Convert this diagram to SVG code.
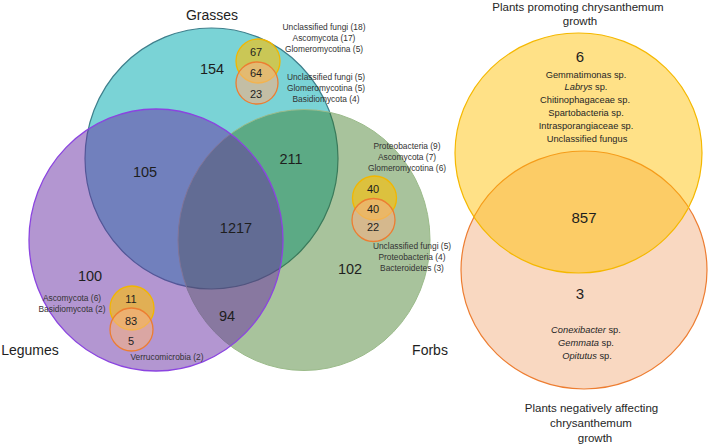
<svg xmlns="http://www.w3.org/2000/svg" width="709" height="446" viewBox="0 0 709 446">
<style>
text{font-family:"Liberation Sans",Arial,sans-serif;text-anchor:middle;fill:#1e1e1e}
.title{font-size:14px}
.num{font-size:14.5px}
.snum{font-size:11px}
.lab{font-size:8.4px;fill:#333}
.rt{font-size:11.5px;fill:#262626}
.sp{font-size:9.3px;fill:#262626}
.big{font-size:15px}
.sy{fill:#ffc000;fill-opacity:0.6;stroke:#f2b600;stroke-width:1.3}
.so{fill:#f4b183;fill-opacity:0.6;stroke:#ed7d31;stroke-width:1.3}
</style>
<rect width="709" height="446" fill="#ffffff"/>
<g id="venn-left">
  <g id="grasses">
    <ellipse cx="211.5" cy="158.5" rx="126.5" ry="130.5" fill="#7ad3d6" stroke="#3e7f8c" stroke-width="1.2"/>
  </g>
  <g id="forbs">
    <ellipse cx="304" cy="240" rx="126" ry="130.5" fill="#35741a" fill-opacity="0.43" stroke="#9bbb8a" stroke-width="1"/>
  </g>
  <g id="legumes">
    <ellipse cx="156" cy="240" rx="127" ry="131" fill="#672da3" fill-opacity="0.5" stroke="#8b44e0" stroke-width="1.3"/>
  </g>
  <g id="labels">
    <text class="title" x="212" y="20">Grasses</text>
    <text class="title" x="30" y="355">Legumes</text>
    <text class="title" x="430" y="355">Forbs</text>
    <text class="num" x="212" y="74">154</text>
    <text class="num" x="145" y="177">105</text>
    <text class="num" x="291" y="164">211</text>
    <text class="num" x="236" y="233">1217</text>
    <text class="num" x="90" y="281">100</text>
    <text class="num" x="227" y="321">94</text>
    <text class="num" x="350" y="274">102</text>
  </g>
  <g id="grasses-sub">
    <circle class="sy" cx="258" cy="61" r="22"/>
    <circle class="so" cx="257" cy="83" r="21"/>
    <text class="snum" x="256" y="56">67</text>
    <text class="snum" x="256" y="77">64</text>
    <text class="snum" x="256" y="98">23</text>
    <text class="lab" x="324" y="30">Unclassified fungi (18)</text>
    <text class="lab" x="324" y="41">Ascomycota (17)</text>
    <text class="lab" x="324" y="52">Glomeromycotina (5)</text>
    <text class="lab" x="326" y="80">Unclassified fungi (5)</text>
    <text class="lab" x="326" y="91">Glomeromycotina (5)</text>
    <text class="lab" x="326" y="102">Basidiomycota (4)</text>
  </g>
  <g id="forbs-sub">
    <circle class="sy" cx="374.5" cy="198" r="22"/>
    <circle class="so" cx="373.5" cy="220" r="21.5"/>
    <text class="snum" x="373" y="193">40</text>
    <text class="snum" x="373" y="213">40</text>
    <text class="snum" x="373" y="231">22</text>
    <text class="lab" x="407" y="149">Proteobacteria (9)</text>
    <text class="lab" x="407" y="160">Ascomycota (7)</text>
    <text class="lab" x="407" y="171">Glomeromycotina (6)</text>
    <text class="lab" x="412" y="249">Unclassified fungi (5)</text>
    <text class="lab" x="412" y="260">Proteobacteria (4)</text>
    <text class="lab" x="412" y="271">Bacteroidetes (3)</text>
  </g>
  <g id="legumes-sub">
    <circle class="sy" cx="132" cy="308" r="22"/>
    <circle class="so" cx="131.5" cy="329.5" r="21.5"/>
    <text class="snum" x="131" y="303">11</text>
    <text class="snum" x="131" y="325">83</text>
    <text class="snum" x="131" y="345">5</text>
    <text class="lab" x="72" y="301">Ascomycota (6)</text>
    <text class="lab" x="72" y="312">Basidiomycota (2)</text>
    <text class="lab" x="167" y="360">Verrucomicrobia (2)</text>
  </g>
</g>
<g id="venn-right">
  <g id="negative">
    <ellipse cx="584" cy="270" rx="123" ry="119" fill="#f4b183" fill-opacity="0.5" stroke="#ed7d31" stroke-width="1.2"/>
  </g>
  <g id="promoting">
    <ellipse cx="578.5" cy="153" rx="123.5" ry="120" fill="#ffc000" fill-opacity="0.47" stroke="#f5b800" stroke-width="1.2"/>
  </g>
  <g id="right-labels">
    <text class="rt" x="578" y="10.5">Plants promoting chrysanthemum</text>
    <text class="rt" x="580" y="25">growth</text>
    <text class="big" x="580" y="62">6</text>
    <text class="sp" x="586" y="77.5">Gemmatimonas sp.</text>
    <text class="sp" x="586" y="90.3"><tspan font-style="italic">Labrys</tspan> sp.</text>
    <text class="sp" x="585" y="103.1">Chitinophagaceae sp.</text>
    <text class="sp" x="586" y="115.9">Spartobacteria sp.</text>
    <text class="sp" x="586" y="128.7">Intrasporangiaceae sp.</text>
    <text class="sp" x="587" y="141.5">Unclassified fungus</text>
    <text class="big" x="584" y="223">857</text>
    <text class="big" x="580" y="299">3</text>
    <text class="sp" x="586" y="333"><tspan font-style="italic">Conexibacter</tspan> sp.</text>
    <text class="sp" x="586" y="346"><tspan font-style="italic">Gemmata</tspan> sp.</text>
    <text class="sp" x="587" y="358.5"><tspan font-style="italic">Opitutus</tspan> sp.</text>
    <text class="rt" x="591.5" y="412">Plants negatively affecting</text>
    <text class="rt" x="591" y="427">chrysanthemum</text>
    <text class="rt" x="595" y="442">growth</text>
  </g>
</g>
</svg>
